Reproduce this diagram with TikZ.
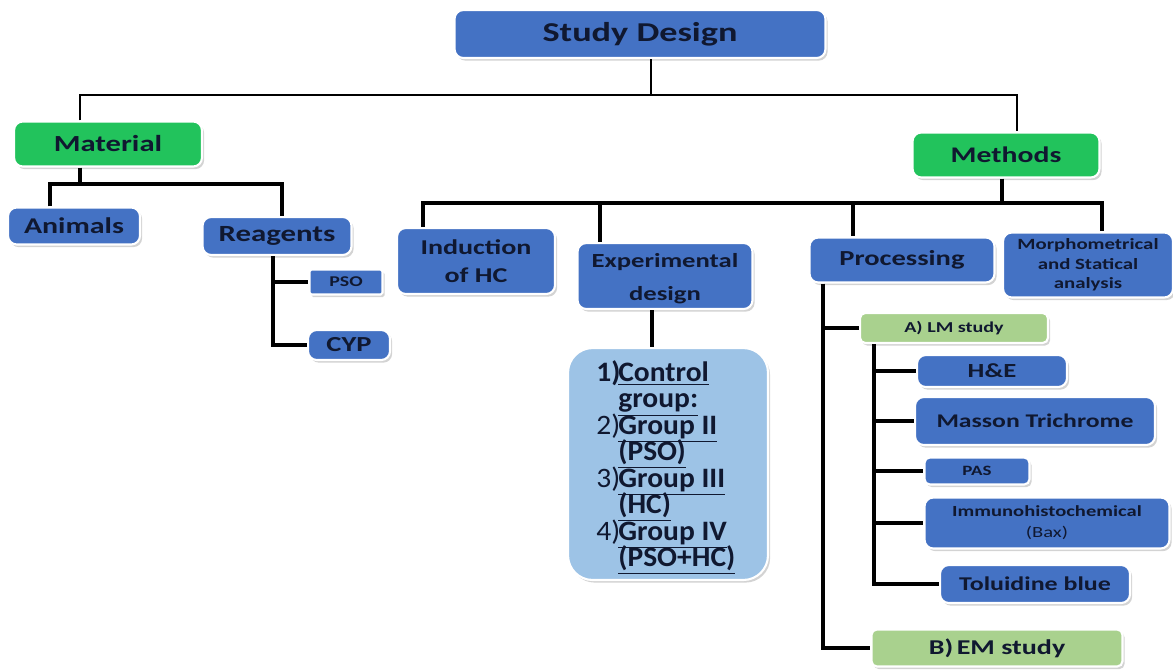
\documentclass[tikz,border=0pt]{standalone}
\usepackage{fontspec}
\setmainfont{Carlito}[FakeStretch=1.33]
\newfontfamily\grpfont{Carlito}[FakeStretch=1.05]
\usetikzlibrary{shadows}
\definecolor{bboxc}{HTML}{4472C4}
\definecolor{gboxc}{HTML}{22C35C}
\definecolor{lgboxc}{HTML}{A9D18E}
\definecolor{lbboxc}{HTML}{9DC3E6}
\definecolor{txtc}{HTML}{101830}
\tikzset{
  base/.style={draw=white, line width=1.2pt, rounded corners=5pt, text=txtc, font=\bfseries, align=center, inner sep=1pt,
    drop shadow={shadow xshift=1.2pt, shadow yshift=-1.5pt, opacity=0.35}},
  bbox/.style={base, fill=bboxc},
  gbox/.style={base, fill=gboxc},
  lgbox/.style={base, fill=lgboxc},
  lbbox/.style={base, fill=lbboxc, rounded corners=14pt},
  conn/.style={draw=black, line width=2pt},
  tconn/.style={draw=black, line width=1.5pt},
  fs/.style args={#1/#2}{font=\bfseries\fontsize{#1}{#2}\selectfont}
}
\newcommand{\gi}[2]{\makebox[0.44cm][l]{#1}\textbf{\underline{#2}}}
\newcommand{\grpsize}{\grpfont\fontsize{16}{15.1}\selectfont\lineskiplimit-20pt\relax}
\begin{document}
\begin{tikzpicture}[x=0.02cm,y=-0.02cm]
\useasboundingbox (0,0) rectangle (1173,670);
% nodes
\node[bbox, fs=15.5/18, minimum width=7.42cm, minimum height=0.96cm] (sd) at (640,34) {Study Design};
\node[gbox, fs=13.1/16, minimum width=3.76cm, minimum height=0.9cm] (mat) at (108,144) {Material};
\node[gbox, fs=12.7/16, minimum width=3.74cm, minimum height=0.9cm] (meth) at (1006,155) {Methods};
\node[bbox, fs=12.8/16, minimum width=2.64cm, minimum height=0.74cm] (ani) at (74,226) {Animals};
\node[bbox, fs=13.2/16, minimum width=2.98cm, minimum height=0.76cm] (rea) at (277,236) {Reagents};
\node[bbox, fs=8.5/10, minimum width=1.46cm, minimum height=0.5cm, rounded corners=1pt] (pso) at (346,282) {PSO};
\node[bbox, fs=12.2/15, minimum width=1.64cm, minimum height=0.6cm] (cyp) at (349,345) {CYP};
\node[bbox, fs=12/16, minimum width=3.16cm, minimum height=1.32cm] (ind) at (476,261) {Induction\\of HC};
\node[bbox, fs=11.4/14, minimum width=3.5cm, minimum height=1.32cm] (exp) at (665,276) {\rule{0pt}{11pt}Experimental\\[4.6pt]design};
\node[lbbox, minimum width=4.0cm, minimum height=4.64cm] (grp) at (668,464) {};
\node[text=txtc, anchor=north west, inner sep=0pt, align=left, font=\grpsize] (grpt) at (596,360) {%
\gi{\textbf{1)}}{Control}\\
\gi{}{group:}\\
\gi{2)}{Group II}\\
\gi{}{(PSO)}\\
\gi{3)}{Group III}\\
\gi{}{(HC)}\\
\gi{4)}{Group IV}\\
\gi{}{(PSO+HC)}};
\node[bbox, fs=12.2/15, minimum width=3.7cm, minimum height=0.9cm] (pro) at (902,260) {Processing};
\node[bbox, fs=8.9/11, minimum width=3.4cm, minimum height=1.3cm] (mor) at (1088,265) {Morphometrical\\and Statical\\analysis};
\node[lgbox, fs=8.6/10, minimum width=3.76cm, minimum height=0.6cm, rounded corners=3pt] (lm) at (954,328) {A)~LM study};
\node[bbox, fs=11.4/14, minimum width=3.0cm, minimum height=0.64cm] (he) at (992,371) {H\&E};
\node[bbox, fs=11/14, minimum width=4.8cm, minimum height=0.96cm] (mas) at (1035,421) {Masson Trichrome};
\node[bbox, fs=8.1/10, minimum width=2.1cm, minimum height=0.54cm, rounded corners=3pt] (pas) at (977,471) {PAS};
\node[bbox, fs=8.8/12, minimum width=4.9cm, minimum height=1.02cm] (imm) at (1047,523) {Immunohistochemical\\{\mdseries(Bax)}};
\node[bbox, fs=11.1/14, minimum width=3.8cm, minimum height=0.76cm] (tol) at (1035,584) {Toluidine blue};
\node[lgbox, fs=12/15, minimum width=5.02cm, minimum height=0.74cm, rounded corners=3pt] (em) at (997,648) {B)\,EM study};
% junction coordinates
\coordinate (t0) at (651,95);
\coordinate (t1) at (80,95);
\coordinate (t2) at (1017,95);
\coordinate (m0) at (80,184);
\coordinate (m1) at (50,184);
\coordinate (m2) at (282,184);
\coordinate (r0) at (273,0);
\coordinate (h0) at (1002,203);
\coordinate (h1) at (423,203);
\coordinate (h2) at (600,203);
\coordinate (h3) at (853,203);
\coordinate (h4) at (1102,203);
\coordinate (e0) at (652,0);
\coordinate (p0) at (823,0);
\coordinate (l0) at (874,0);
% connectors
\draw[tconn] (sd.south -| t0) -- (t0);
\draw[tconn] (mat.north -| t1) -- (t1) -- (t2) -- (meth.north -| t2);
\draw[conn] (mat.south -| m0) -- (m0);
\draw[conn] (ani.north -| m1) -- (m1) -- (m2) -- (rea.north -| m2);
\draw[conn] (rea.south -| r0) -- (r0 |- cyp.west) -- (cyp.west);
\draw[conn] (r0 |- pso.west) -- (pso.west);
\draw[conn] (meth.south -| h0) -- (h0);
\draw[conn] (ind.north -| h1) -- (h1) -- (h4) -- (mor.north -| h4);
\draw[conn] (h2) -- (exp.north -| h2);
\draw[conn] (h3) -- (pro.north -| h3);
\draw[conn] (exp.south -| e0) -- (grp.north -| e0);
\draw[conn] (pro.south -| p0) -- (p0 |- em.west) -- (em.west);
\draw[conn] (p0 |- lm.west) -- (lm.west);
\draw[conn] (lm.south -| l0) -- (l0 |- tol.west) -- (tol.west);
\draw[conn] (l0 |- he.west) -- (he.west);
\draw[conn] (l0 |- mas.west) -- (mas.west);
\draw[conn] (l0 |- pas.west) -- (pas.west);
\draw[conn] (l0 |- imm.west) -- (imm.west);
\end{tikzpicture}
\end{document}
